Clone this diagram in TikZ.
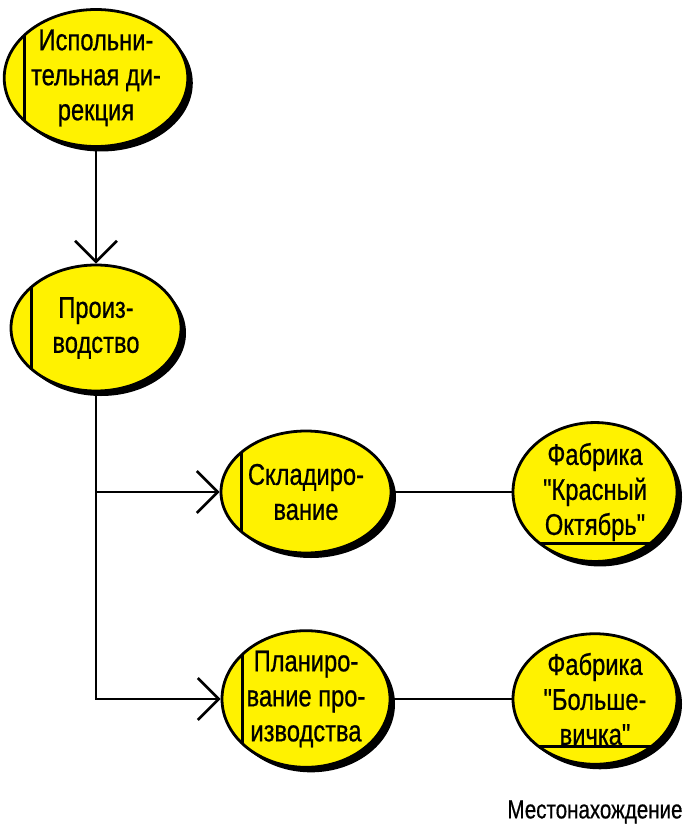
\documentclass[tikz,border=0pt]{standalone}
\usepackage{fontspec}
\setmainfont[FakeStretch=0.79, FakeBold=0.6, Ligatures=TeXOff]{Liberation Sans}
\usetikzlibrary{shapes.geometric,shadows,arrows.meta}

\tikzset{
  unit/.style={ellipse, draw, line width=2.8pt, fill=yellow, inner sep=0pt,
    align=center, font=\fontsize{30}{35}\selectfont,
    drop shadow={shadow xshift=5pt, shadow yshift=-5pt, fill=black, opacity=1}},
  % process: bar near the left side
  proc/.style={unit, path picture={
    \draw[line width=3pt] ([xshift=20pt]path picture bounding box.north west)
      -- ([xshift=20pt]path picture bounding box.south west);}},
  % place: bar near the bottom
  place/.style={unit, path picture={
    \draw[line width=3pt] ([yshift=18pt]path picture bounding box.south west)
      -- ([yshift=18pt]path picture bounding box.south east);}},
  link/.style={line width=2.6pt},
  flow/.style={link, -{Straight Barb[length=21pt,width=42pt,line width=2.6pt]}}
}

\begin{document}
\begin{tikzpicture}[x=1pt, y=-1pt]
  \useasboundingbox (0,0) rectangle (696,827);

  % units of the organisation
  \node[proc, minimum width=168pt, minimum height=128pt] (exec) at (96,78)
    {Испольни-\\тельная ди-\\рекция};
  \node[proc, minimum width=170pt, minimum height=126pt] (prod) at (96,328)
    {Произ-\\водство};
  \node[proc, minimum width=170pt, minimum height=122pt] (stor) at (306,492)
    {Складиро-\\вание};
  \node[proc, minimum width=168pt, minimum height=123pt] (plan) at (306,699)
    {Планиро-\\вание про-\\изводства};

  % locations
  \node[place, minimum width=164pt, minimum height=120pt] (fabA) at (595,492)
    {Фабрика\\"Красный\\Октябрь"};
  \node[place, minimum width=164pt, minimum height=118pt] (fabB) at (595,699)
    {Фабрика\\"Больше-\\вичка"};

  \node[font=\fontsize{26}{30}\selectfont] (loc) at (595,812) {Местонахождение};

  % connectors
  \draw[flow] (exec) -- (prod);
  \draw[flow] (prod.south) |- (plan.west);
  \draw[flow] (prod.south |- stor.west) -- (stor.west);
  \draw[link] (stor) -- (fabA);
  \draw[link] (plan) -- (fabB);
\end{tikzpicture}
\end{document}
